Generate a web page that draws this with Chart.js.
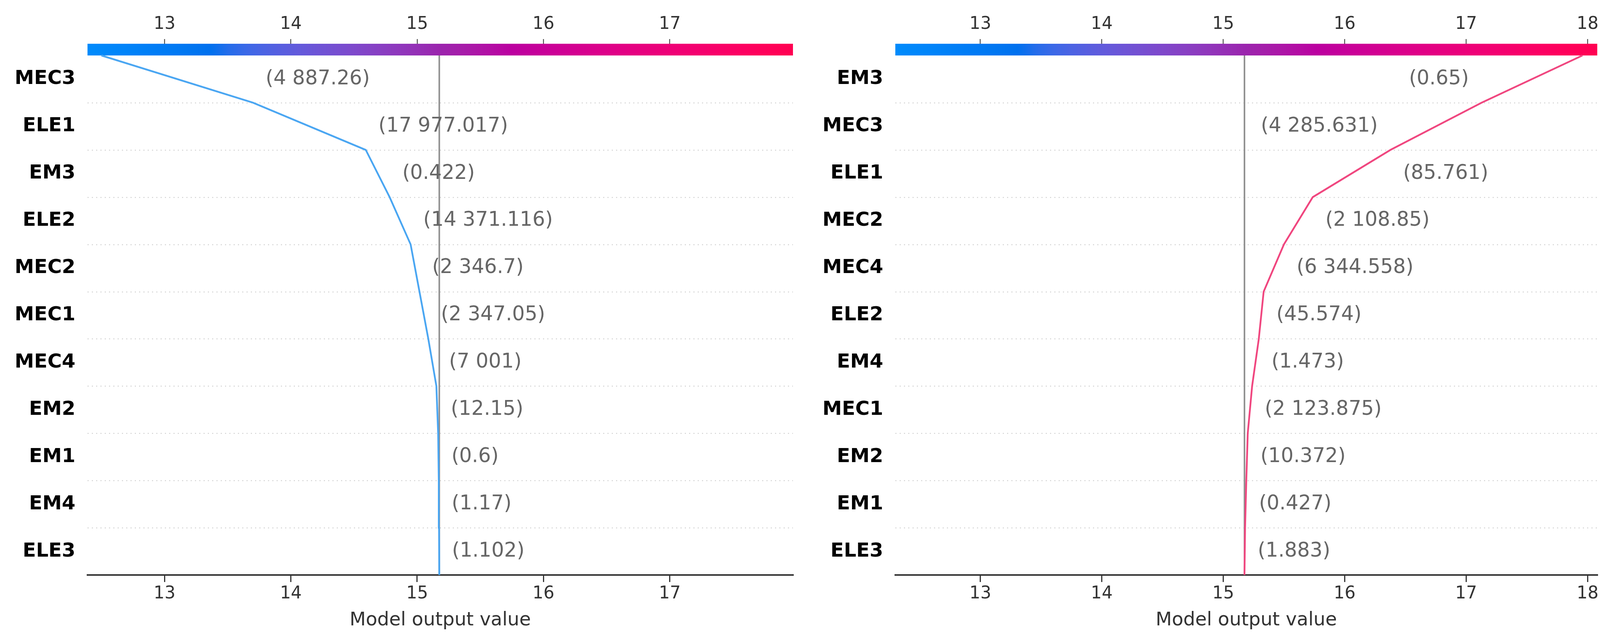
<!DOCTYPE html>
<html>
<head>
<meta charset="utf-8">
<script src="https://cdn.jsdelivr.net/npm/chart.js@4.4.1/dist/chart.umd.min.js"></script>
<style>
  html, body { margin: 0; padding: 0; background: #fff; }
  #wrap { display: flex; width: 4120px; height: 1641px; }
  canvas { display: block; }
</style>
</head>
<body>
<div id="wrap">
  <canvas id="leftChart" width="2060" height="1641"></canvas>
  <canvas id="rightChart" width="2060" height="1641"></canvas>
</div>
<script>
// model base value (gray vertical line)
const baseValue = 15.175;

// left observation: features listed top to bottom, path listed bottom (y=0) to top
const leftFeatures = ['MEC3', 'ELE1', 'EM3', 'ELE2', 'MEC2', 'MEC1', 'MEC4', 'EM2', 'EM1', 'EM4', 'ELE3'];
const leftValues = [4887.26, 17977.017, 0.422, 14371.116, 2346.7, 2347.05, 7001, 12.15, 0.6, 1.17, 1.102];
const leftPath = [15.175, 15.173, 15.171, 15.166, 15.152, 15.088, 15.018, 14.948, 14.782, 14.593, 13.70, 12.50];
const leftRange = [12.39, 17.975];
const leftTopTicks = [13, 14, 15, 16, 17];
const leftBottomTicks = [13, 14, 15, 16, 17];

// right observation
const rightFeatures = ['EM3', 'MEC3', 'ELE1', 'MEC2', 'MEC4', 'ELE2', 'EM4', 'MEC1', 'EM2', 'EM1', 'ELE3'];
const rightValues = [0.65, 4285.631, 85.761, 2108.85, 6344.558, 45.574, 1.473, 2123.875, 10.372, 0.427, 1.883];
const rightPath = [15.175, 15.180, 15.190, 15.202, 15.238, 15.293, 15.333, 15.500, 15.737, 16.377, 17.127, 17.958];
const rightRange = [12.30, 18.08];
const rightTopTicks = [13, 14, 15, 16, 17, 18];
const rightBottomTicks = [13, 14, 15, 16, 17, 18];

const FONT = "'DejaVu Sans', 'Liberation Sans', sans-serif";
const CBAR_ROWS = 0.248;   // colour bar height, in rows

// shap red_blue colormap (LCH interpolation)
function lch2rgb(l, c, h) {
  const a = c * Math.cos(h), b = c * Math.sin(h);
  const fy = (l + 16) / 116, fx = fy + a / 500, fz = fy - b / 200;
  const inv = t => t > 6 / 29 ? t * t * t : 3 * (6 / 29) * (6 / 29) * (t - 4 / 29);
  const X = 0.95047 * inv(fx), Y = inv(fy), Z = 1.08883 * inv(fz);
  const lin = [
    3.2406 * X - 1.5372 * Y - 0.4986 * Z,
    -0.9689 * X + 1.8758 * Y + 0.0415 * Z,
    0.0557 * X - 0.2040 * Y + 1.0570 * Z
  ];
  const rgb = lin.map(u => {
    u = Math.min(1, Math.max(0, u));
    u = u <= 0.0031308 ? 12.92 * u : 1.055 * Math.pow(u, 1 / 2.4) - 0.055;
    return Math.round(u * 255);
  });
  return `rgb(${rgb[0]},${rgb[1]},${rgb[2]})`;
}

function redBlue(t) {
  const l = t < 0.5 ? 54 - 14 * (t / 0.5) : 40 + 14 * ((t - 0.5) / 0.5);
  const c = 70 + 20 * t;
  const h = 4.6588 + (0.35470565 + 2 * Math.PI - 4.6588) * t;
  return lch2rgb(l, c, h);
}

function fmtValue(v) {
  let s = v.toFixed(3).replace(/0+$/, '').replace(/\.$/, '');
  let [whole, dec] = s.split('.');
  whole = whole.replace(/\B(?=(\d{3})+(?!\d))/g, ' ');
  return '(' + whole + (dec ? '.' + dec : '') + ')';
}

function makePanel(id, features, values, path, range, topTicks, bottomTicks, lineColor, yWidth, rightPad) {
  const n = features.length;

  const decor = {
    id: 'decor',
    beforeDatasetsDraw(chart) {
      const { ctx, chartArea } = chart;
      const xs = chart.scales.x, ys = chart.scales.y;
      // dotted row separators
      ctx.save();
      ctx.strokeStyle = '#cccccc';
      ctx.lineWidth = 2;
      ctx.setLineDash([3, 8]);
      for (let i = 1; i < n; i++) {
        const y = Math.round(ys.getPixelForValue(i)) + 0.5;
        ctx.beginPath();
        ctx.moveTo(chartArea.left, y);
        ctx.lineTo(chartArea.right, y);
        ctx.stroke();
      }
      ctx.restore();
      // colour bar
      const top = ys.getPixelForValue(n + CBAR_ROWS);
      const bot = ys.getPixelForValue(n);
      const grad = ctx.createLinearGradient(xs.left, 0, xs.right, 0);
      for (let k = 0; k <= 40; k++) grad.addColorStop(k / 40, redBlue(k / 40));
      ctx.save();
      ctx.fillStyle = grad;
      ctx.fillRect(xs.left, top, xs.right - xs.left, bot - top);
      ctx.restore();
    },
    afterDatasetsDraw(chart) {
      const { ctx } = chart;
      const xs = chart.scales.x, ys = chart.scales.y;
      ctx.save();
      ctx.font = `51px ${FONT}`;
      ctx.fillStyle = '#666666';
      ctx.textBaseline = 'middle';
      features.forEach((f, k) => {
        const row = n - 1 - k;
        const lo = Math.min(path[row], path[row + 1]);
        const hi = Math.max(path[row], path[row + 1]);
        const label = fmtValue(values[k]);
        const y = ys.getPixelForValue(row + 0.5);
        let text = '  ' + label;
        let x = xs.getPixelForValue(hi);
        ctx.textAlign = 'left';
        if (x + ctx.measureText(text).width > xs.right) {
          text = label + '  ';
          x = xs.getPixelForValue(lo);
          ctx.textAlign = 'right';
          if (x - ctx.measureText(text).width < xs.left) {
            text = label;
            x = xs.left;
            ctx.textAlign = 'left';
          }
        }
        ctx.fillText(text, x, y);
      });
      ctx.restore();
    }
  };

  return new Chart(document.getElementById(id), {
    type: 'scatter',
    data: {
      datasets: [
        {
          data: path.map((v, i) => ({ x: v, y: i })),
          showLine: true,
          borderColor: lineColor,
          borderWidth: 4.5,
          pointRadius: 0,
          tension: 0,
          order: 1
        },
        {
          data: [{ x: baseValue, y: 0 }, { x: baseValue, y: n }],
          showLine: true,
          borderColor: '#8f8f8f',
          borderWidth: 4,
          pointRadius: 0,
          order: 2
        }
      ]
    },
    options: {
      responsive: false,
      animation: false,
      devicePixelRatio: 1,
      events: [],
      layout: { padding: { left: 0, right: rightPad, top: 0, bottom: 0 } },
      plugins: { legend: { display: false }, tooltip: { enabled: false } },
      scales: {
        x: {
          type: 'linear',
          position: 'bottom',
          min: range[0],
          max: range[1],
          afterBuildTicks: s => { s.ticks = bottomTicks.map(v => ({ value: v })); },
          afterFit: s => { s.height = 169; },
          border: { display: true, color: '#333333', width: 4 },
          grid: { display: true, drawOnChartArea: false, drawTicks: true, tickLength: 18, color: '#333333', lineWidth: 3 },
          ticks: { color: '#333333', font: { family: FONT, size: 44 }, padding: 4, maxRotation: 0 },
          title: {
            display: true,
            text: 'Model output value',
            color: '#333333',
            font: { family: FONT, size: 48 },
            padding: { top: 0, bottom: 24 }
          }
        },
        x2: {
          type: 'linear',
          position: 'top',
          min: range[0],
          max: range[1],
          afterBuildTicks: s => { s.ticks = topTicks.map(v => ({ value: v })); },
          afterFit: s => { s.height = 112; },
          border: { display: false },
          grid: { display: true, drawOnChartArea: false, drawTicks: true, tickLength: 12, color: '#555555', lineWidth: 2.5 },
          ticks: { color: '#333333', font: { family: FONT, size: 44 }, padding: 11, maxRotation: 0 }
        },
        y: {
          type: 'linear',
          min: 0,
          max: n + CBAR_ROWS,
          afterBuildTicks: s => { s.ticks = features.map((f, i) => ({ value: i + 0.5 })); },
          afterFit: s => { s.width = yWidth; },
          border: { display: false },
          grid: { display: false, drawTicks: false },
          ticks: {
            autoSkip: false,
            color: '#000000',
            padding: 31,
            font: { family: FONT, size: 50, weight: 'bold' },
            callback: v => features[n - 1 - Math.floor(v)]
          }
        }
      }
    },
    plugins: [decor]
  });
}

makePanel('leftChart', leftFeatures, leftValues, leftPath, leftRange, leftTopTicks, leftBottomTicks, '#4aa6f2', 224, 30);
makePanel('rightChart', rightFeatures, rightValues, rightPath, rightRange, rightTopTicks, rightBottomTicks, '#f0467f', 232, 31);
</script>
</body>
</html>
